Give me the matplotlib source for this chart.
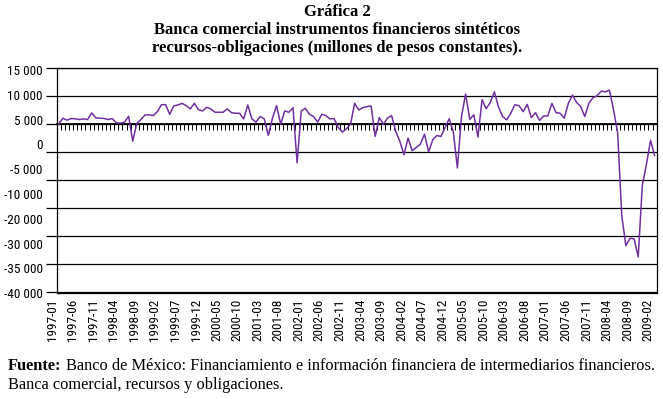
import numpy as np
import matplotlib
matplotlib.use('Agg')
import matplotlib.pyplot as plt
from matplotlib import font_manager
from matplotlib.transforms import ScaledTranslation

# monthly values, 1997-01 .. 2009-02
valores = [5000, 6000, 5650, 5940, 5900, 5760, 5880, 5760, 6940, 6060,
           6000, 5960, 5760, 5940, 5180, 5120, 5300, 6350, 1900, 5120,
           5760, 6590, 6590, 6470, 7180, 8410, 8410, 6700, 8200, 8350,
           8650, 8240, 7650, 8650, 7500, 7300, 7950, 7650, 7060, 7060,
           7060, 7650, 7000, 6880, 6880, 5880, 8350, 5880, 5300, 6300,
           5880, 2940, 6000, 8240, 4940, 7300, 7060, 7880, -1940, 7300,
           7770, 6700, 6300, 5300, 6700, 6470, 5880, 5950, 4350, 3530,
           4120, 4940, 8650, 7470, 7880, 8060, 8180, 2770, 6120, 4940,
           6000, 6470, 3650, 1880, -500, 2450, 200, 800, 1390, 3160,
           0, 2150, 2920, 2740, 4300, 5900, 3630, -2860, 6280, 10300,
           5800, 6600, 2650, 9300, 7700, 8800, 10700, 8000, 6300, 5700,
           6900, 8400, 8230, 7170, 8470, 6100, 7000, 5600, 6400, 6400,
           8650, 7000, 6880, 6000, 8650, 10120, 8820, 8060, 6300, 8650,
           9650, 10000, 10820, 10700, 11000, 7500, 3400, -11400, -16700, -15400,
           -15500, -18700, -6000, -2200, 2050, -650]

etiquetas_x = ['1997-01', '1997-06', '1997-11', '1998-04', '1998-09', '1999-02',
               '1999-07', '1999-12', '2000-05', '2000-10', '2001-03', '2001-08',
               '2002-01', '2002-06', '2002-11', '2003-04', '2003-09', '2004-02',
               '2004-07', '2004-12', '2005-05', '2005-10', '2006-03', '2006-08',
               '2007-01', '2007-06', '2007-11', '2008-04', '2008-09', '2009-02']

# gridlines and the (odd) labels printed on the original y axis
rejilla = [15000, 10000, 5000, 0, -5000, -10000, -15000, -20000, -25000]
etiquetas_y = ['15 000', '10 000', '5 000', '0', '-5 000', '-10 000',
               '-20 000', '-30 000', '-35 000', '-40 000']

disponibles = {f.name for f in font_manager.fontManager.ttflist}
narrow = 'DejaVu Sans'
for c in ['Liberation Sans Narrow', 'DejaVu Sans Condensed', 'Roboto Condensed', 'Liberation Sans']:
    if c in disponibles:
        narrow = c
        break
serif = 'Liberation Serif'

fig = plt.figure(figsize=(6.63, 3.99), dpi=100)
ax = fig.add_axes([56.7 / 663, 1 - 293.3 / 399, 600 / 663, 225.6 / 399])

x = np.arange(len(valores))
ax.plot(x, valores, color='#7030A0', lw=1.1, zorder=3)
ax.set_xlim(-0.5, len(valores) - 0.5)
ax.set_ylim(-25000, 15000)

for s in ax.spines.values():
    s.set_linewidth(0.9)
    s.set_color('black')

# y axis: ticks on the gridlines, labels where the original prints them
ax.set_yticks(rejilla)
ax.yaxis.grid(True, which='major', color='black', lw=0.9)
ax.tick_params(axis='y', which='major', length=8, width=0.9, labelleft=False)
pos_y = np.linspace(14600, -25200, len(etiquetas_y))
ax.set_yticks(pos_y, labels=etiquetas_y, minor=True)
ax.tick_params(axis='y', which='minor', length=0, pad=10, labelsize=9.5)
for t in ax.get_yticklabels(minor=True):
    t.set_family(narrow)

# category labels at the bottom
ax.set_xticks(x[::5], labels=etiquetas_x)
ax.tick_params(axis='x', length=0, pad=4, labelsize=9.5, labelrotation=90)
desplaza = ScaledTranslation(-6.5 / 100, 0, fig.dpi_scale_trans)
for t in ax.get_xticklabels():
    t.set_family(narrow)
    t.set_transform(t.get_transform() + desplaza)

# category axis line crossing at 5 000 with its tick marks
eje = ax.secondary_xaxis(0.75)
eje.set_alignment('bottom')
eje.set_xticks(np.arange(-0.5, len(valores), 1))
eje.tick_params(direction='out', length=4.5, width=0.75, labelbottom=False)
eje.spines['bottom'].set_linewidth(1.3)

fig.text(337 / 663, 1 - 12 / 399, 'Gráfica 2', ha='center', va='center',
         family=serif, weight='bold', fontsize=12)
fig.text(337 / 663, 1 - 30 / 399, 'Banca comercial instrumentos financieros sintéticos',
         ha='center', va='center', family=serif, weight='bold', fontsize=12)
fig.text(337 / 663, 1 - 47.5 / 399, 'recursos-obligaciones (millones de pesos constantes).',
         ha='center', va='center', family=serif, weight='bold', fontsize=12)

f1 = fig.text(8 / 663, 1 - 366 / 399, 'Fuente:', ha='left', va='center',
              family=serif, weight='bold', fontsize=11.8)
r = fig.canvas.get_renderer()
bb = f1.get_window_extent(r)
fig.text(bb.x1 / fig.bbox.width + 4 / 663, 1 - 366 / 399,
         'Banco de México: Financiamiento e información financiera de intermediarios financieros.',
         ha='left', va='center', family=serif, fontsize=11.8)
fig.text(8 / 663, 1 - 385 / 399, 'Banca comercial, recursos y obligaciones.',
         ha='left', va='center', family=serif, fontsize=11.8)

fig.savefig('out.png', dpi=100)
